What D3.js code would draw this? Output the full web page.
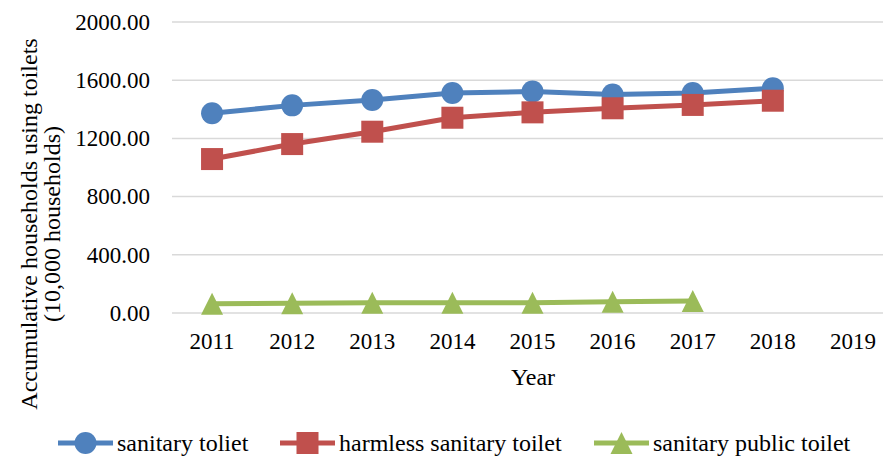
<!DOCTYPE html>
<html>
<head>
<meta charset="utf-8">
<script src="https://cdn.jsdelivr.net/npm/d3@7"></script>
<style>
  html, body { margin: 0; padding: 0; background: #ffffff; }
  svg { display: block; }
</style>
</head>
<body>
<svg id="chart" width="883" height="460"></svg>
<script>
const years = ["2011", "2012", "2013", "2014", "2015", "2016", "2017", "2018", "2019"]
const yTicks = [0, 400, 800, 1200, 1600, 2000]

const sanitaryToilet = [1373, 1427, 1464, 1512, 1522, 1502, 1512, 1544]
const harmlessToilet = [1058, 1161, 1246, 1342, 1379, 1407, 1430, 1459]
const publicToilet = [63, 67, 71, 71, 71, 77, 82]

const seriesNames = ["sanitary toliet", "harmless sanitary toilet", "sanitary public toilet"]
const seriesColors = ["#4f81bd", "#c0504d", "#9bbb59"]
const seriesShapes = ["circle", "square", "triangle"]

const series = [sanitaryToilet, harmlessToilet, publicToilet].map((vals, i) => ({
  name: seriesNames[i],
  color: seriesColors[i],
  shape: seriesShapes[i],
  values: vals.map((v, j) => ({ year: years[j], value: v }))
}))

const width = 883
const height = 460
const font = "'Liberation Serif', 'Times New Roman', serif"

const x = d3.scaleBand().domain(years).range([172, 893])
const y = d3.scaleLinear().domain([0, 2000]).range([313, 22])
const cx = d => x(d) + x.bandwidth() / 2

const svg = d3.select("#chart")

svg.append("rect")
  .attr("width", width)
  .attr("height", height)
  .attr("fill", "#ffffff")

// grid
const grid = svg.append("g").attr("id", "grid")
grid.selectAll("line")
  .data(yTicks)
  .join("line")
  .attr("x1", 172)
  .attr("x2", 893)
  .attr("y1", d => y(d))
  .attr("y2", d => y(d))
  .attr("stroke", "#d9d9d9")
  .attr("stroke-width", 1.5)

// y axis labels
const yAxis = svg.append("g").attr("transform", "translate(172,0)")
  .call(d3.axisLeft(y).tickValues(yTicks).tickSize(0).tickPadding(22).tickFormat(d3.format(".2f")))
yAxis.select(".domain").remove()
yAxis.selectAll("text")
  .attr("font-family", font)
  .attr("font-size", 23)
  .attr("fill", "#000")

// x axis labels
const xAxis = svg.append("g").attr("transform", "translate(0,313)")
  .call(d3.axisBottom(x).tickSize(0).tickPadding(0))
xAxis.select(".domain").remove()
xAxis.selectAll("text")
  .attr("font-family", font)
  .attr("font-size", 23)
  .attr("fill", "#000")
  .attr("dy", null)
  .attr("y", 36)

// axis titles
svg.append("text")
  .attr("x", 533)
  .attr("y", 385)
  .attr("text-anchor", "middle")
  .attr("font-family", font)
  .attr("font-size", 24)
  .text("Year")

const yTitle = svg.append("g").attr("transform", "translate(0,224) rotate(-90)")
yTitle.append("text")
  .attr("x", 0).attr("y", 37)
  .attr("text-anchor", "middle")
  .attr("font-family", font)
  .attr("font-size", 24)
  .text("Accumulative households using toilets")
yTitle.append("text")
  .attr("x", 0).attr("y", 60)
  .attr("text-anchor", "middle")
  .attr("font-family", font)
  .attr("font-size", 24)
  .text("(10,000 households)")

// markers
function drawMarker(g, shape, color) {
  if (shape === "circle") {
    g.append("circle").attr("r", 11).attr("fill", color)
  } else if (shape === "square") {
    g.append("rect").attr("x", -11).attr("y", -11).attr("width", 22).attr("height", 22).attr("fill", color)
  } else {
    g.append("path").attr("d", "M0,-11L11,11L-11,11Z").attr("fill", color)
  }
}

const line = d3.line().x(d => cx(d.year)).y(d => y(d.value))

const viz = svg.append("g").attr("id", "viz")
series.forEach(s => {
  const g = viz.append("g")
  g.append("path")
    .datum(s.values)
    .attr("d", line)
    .attr("fill", "none")
    .attr("stroke", s.color)
    .attr("stroke-width", 5)
    .attr("stroke-linejoin", "round")
  g.selectAll("g.mark")
    .data(s.values)
    .join("g")
    .attr("class", "mark")
    .attr("transform", d => `translate(${cx(d.year)},${y(d.value)})`)
    .each(function () { drawMarker(d3.select(this), s.shape, s.color) })
})

// legend
const legendX = [58, 280, 594]
const legend = svg.append("g").attr("id", "legend")
series.forEach((s, i) => {
  const g = legend.append("g").attr("transform", `translate(${legendX[i]},443)`)
  g.append("line")
    .attr("x1", 0).attr("x2", 55)
    .attr("stroke", s.color)
    .attr("stroke-width", 5)
  const m = g.append("g").attr("transform", "translate(27.5,0)")
  drawMarker(m, s.shape, s.color)
  g.append("text")
    .attr("x", 59)
    .attr("y", 0)
    .attr("dy", "0.33em")
    .attr("font-family", font)
    .attr("font-size", 24)
    .text(s.name)
})
</script>
</body>
</html>
